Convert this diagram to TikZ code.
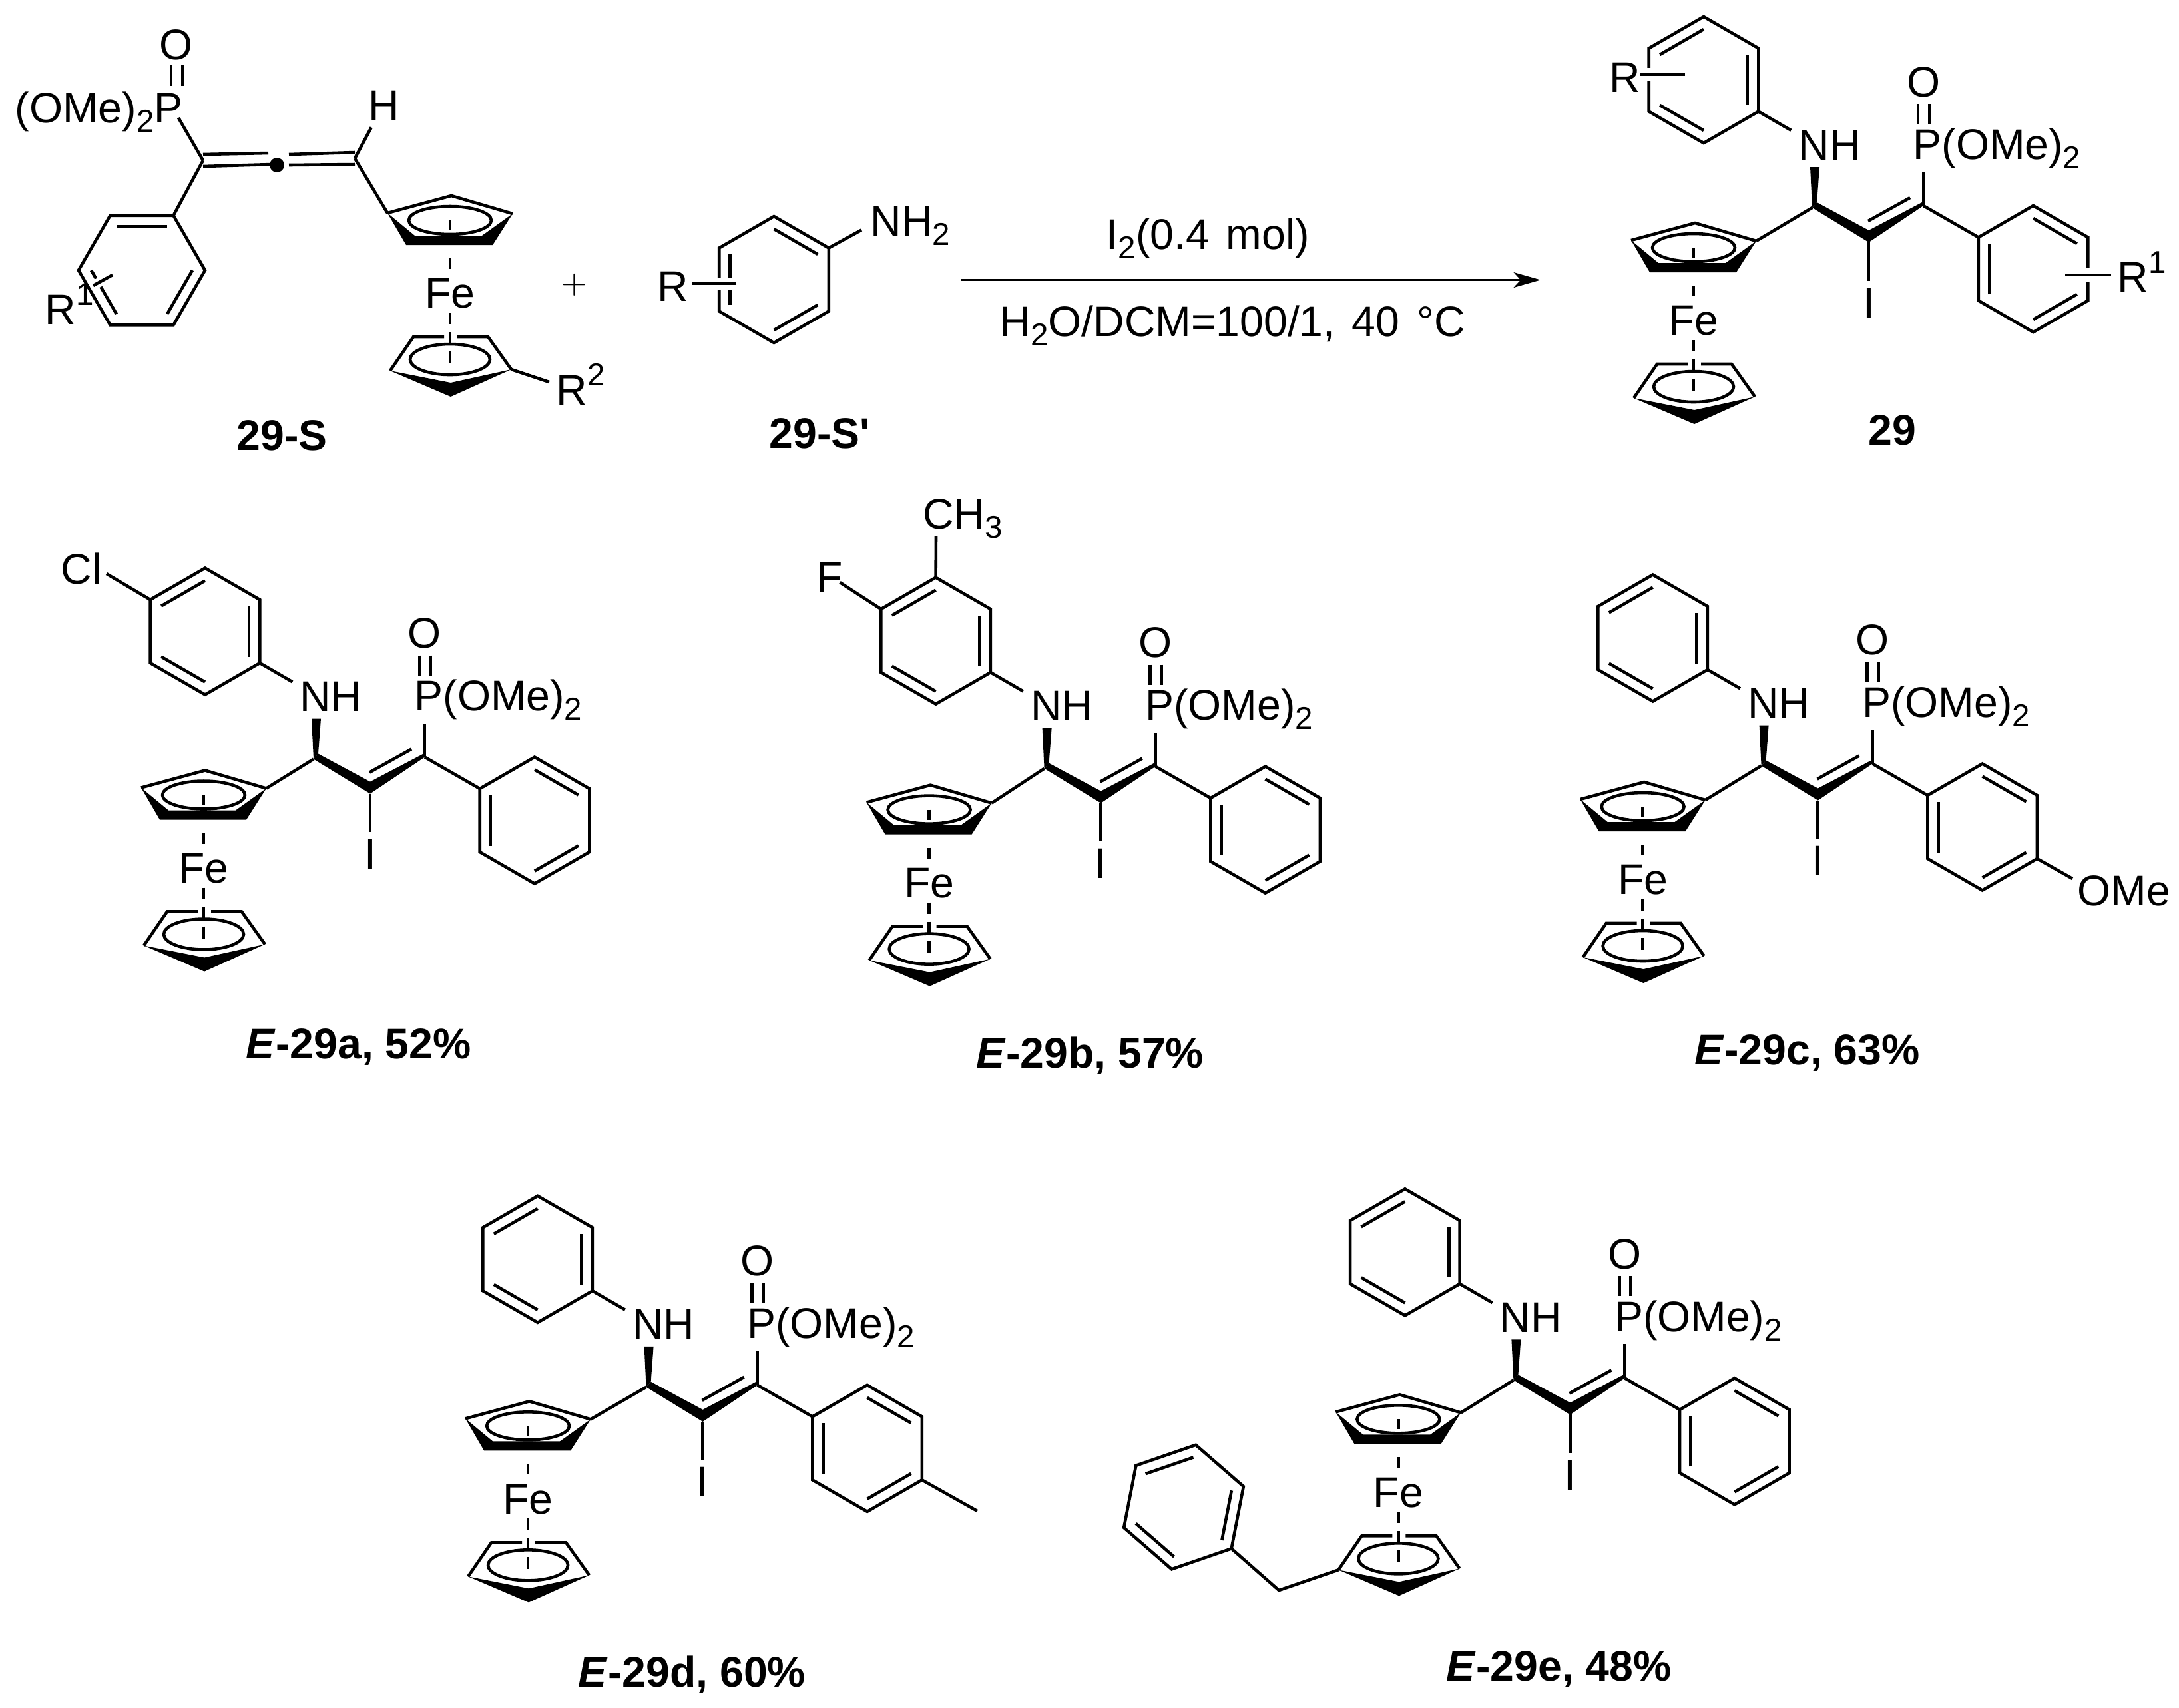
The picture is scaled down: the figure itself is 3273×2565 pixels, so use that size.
\documentclass[tikz,border=0pt]{standalone}
\usepackage{fontspec}
\setmainfont{Liberation Sans}
\usetikzlibrary{arrows.meta}

\newcommand{\atomfont}{\fontsize{18.3}{20}\selectfont}
\newcommand{\lsub}[1]{\raisebox{-4pt}{\fontsize{13.5}{14}\selectfont #1}}
\newcommand{\lsup}[1]{\raisebox{8pt}{\fontsize{13.5}{14}\selectfont #1}}

% six-membered ring round the origin of the scope, #2 = first doubled edge
\newcommand{\benzring}[2]{%
    \foreach \k in {1,...,6} \coordinate (#1\k) at (-150+\k*60:95);
    \draw[bond] (#11)--(#12)--(#13)--(#14)--(#15)--(#16)--cycle;
    \foreach \a in {0,120,240} \draw[bond] (#2+\a:76) -- (#2+\a+60:76);
}

% origin of the scope = right corner of the upper ring
\newcommand{\ferrocene}[1]{%
    \coordinate (#1tr) at (0,0);
    \coordinate (#1tt) at (-92,-27);
    \coordinate (#1tl) at (-188,-1);
    \draw[bond] (#1tl)--(#1tt)--(#1tr);
    \fill (#1tl)--(-160,47)--(-30,47)--(#1tr)--(-46,33)--(-147,33)--cycle;
    \draw[bond] (-94,10) ellipse [x radius=62, y radius=21];
    \node[atom] (#1fe) at (-94,120) {Fe};
    \foreach \ya/\yb in {10/25,67/83,149/166,178/198,207/225}
        \draw[bond] (-94,\ya) -- (-94,\yb);
    % lower ring
    \coordinate (#1al) at (-149,185);
    \coordinate (#1ar) at (-37,185);
    \coordinate (#1bl) at (-184,236);
    \coordinate (#1br) at (-2,234);
    \draw[bond] (-103,185)--(#1al)--(#1bl);
    \draw[bond] (-83,185)--(#1ar)--(#1br);
    \fill (#1bl)--(-93,275)--(#1br)--(-93,254)--cycle;
    \draw[bond] (-94,219) ellipse [x radius=60, y radius=23];
}

% #1 prefix, (#2,#3) chain carbon with NH, (#4,#5) ferrocene seen from there
\newcommand{\product}[5]{%
    \begin{scope}[shift={(#2,#3)}]
        \coordinate (#1c1) at (0,0);
        \coordinate (#1c2) at (85,52);
        \coordinate (#1c3) at (167,-3);
        \coordinate (#1pb) at (167,-54);
        \node[atom] (#1nh) at (26,-94) {NH};
        \node[atomtxt] (#1p) at (151,-73) {P(OMe)\lsub{2}};
        \node[atom] (#1o) at (167,-189) {O};
        \node[atom] (#1i) at (85,143) {I};
        % chain
        \fill (#1c1)--(7,-8)--(85,34)--(165,-8)--(#1c3)--(#1c2)--cycle;
        \fill (#1c1)--(-3,-61)--(11,-61)--(7,-8)--cycle;
        \draw[bond] (84,20)--(147,-15);
        \draw[bond] (#1c2)--(#1i.north);
        \draw[bond] (#1c3)--(#1pb);
        \draw[bond] (159,-156)--(159,-126);
        \draw[bond] (176,-156)--(176,-126);
        % rings
        \begin{scope}[shift={(-163,-192)}]
            \benzring{#1n}{-30}
        \end{scope}
        \begin{scope}[shift={(332,92)}]
            \benzring{#1a}{-90}
        \end{scope}
        \draw[bond] (#1n3)--(#1nh.159);
        \draw[bond] (#1c3)--(#1a6);
        \begin{scope}[shift={(#4,#5)}]
            \ferrocene{#1f}
        \end{scope}
        \draw[bond] (#1c1)--(#1ftr);
    \end{scope}
}

\begin{document}
\begin{tikzpicture}[x=0.01cm, y=-0.01cm]
    % ================= styles =================
    \tikzset{
        bond/.style={line width=1.3pt, black},
        crossbond/.style={bond, preaction={draw=white, line width=#1}},
        atom/.style={font=\atomfont, inner sep=3pt},
        atomtxt/.style={font=\atomfont, anchor=base west, inner sep=0pt},
        cmpd/.style={font=\atomfont\bfseries, anchor=base west, inner sep=0pt}
    }
    \useasboundingbox (0,0) rectangle (3273,2565);

    % ================= allene 29-S =================
    \foreach \n/\x/\y in {spb/268/177, sc1/305/241, sc3/533/238, su1/305/232, su2/403/230,
        sd1/305/250, sd2/408/247, su3/434/232, su4/533/229, sd3/434/248, sd4/533/247}
        \coordinate (\n) at (\x,\y);
    \node[atomtxt] (sp) at (22,184) {(OMe)\lsub{2}P};
    \node[atom] (so) at (265,67) {O};
    \node[atom] (sh) at (577,158) {H};
    \node[circle, fill, inner sep=0pt, minimum size=0.22cm] (sdot) at (416,248) {};
    \draw[bond] (257,97)--(257,129);
    \draw[bond] (274,97)--(274,129);
    \draw[bond] (spb)--(sc1);
    \draw[bond] (su1)--(su2);
    \draw[bond] (sd1)--(sd2);
    \draw[bond] (su3)--(su4);
    \draw[bond] (sd3)--(sd4);
    \draw[bond] (sc3)--(sh.240);
    \begin{scope}[shift={(213,406)}, rotate=30]
        \benzring{sa}{-90}
    \end{scope}
    \draw[bond] (sc1)--(sa2);
    \coordinate (sr1a) at (169,413);
    \coordinate (sr1b) at (140,429);
    \draw[crossbond=4pt] (sr1a)--(sr1b);
    \node[atomtxt] (sr1) at (67,487) {R\lsup{1}};
    \begin{scope}[shift={(770,321)}]
        \ferrocene{sf}
    \end{scope}
    \draw[bond] (sc3)--(sftl);
    \coordinate (sr2b) at (825,574);
    \draw[bond] (sfbr)--(sr2b);
    \node[atomtxt] (sr2) at (835,608) {R\lsup{2}};
    \node[cmpd] (slabel) at (355,676) {29-S};

    \node[font=\fontsize{14.4}{16}\selectfont] (plus) at (863,428) {$+$};

    % ================= aniline 29-S' =================
    \begin{scope}[shift={(1162.5,420)}]
        \benzring{v}{-90}
    \end{scope}
    \coordinate (vnb) at (1294,345.5);
    \draw[bond] (v2)--(vnb);
    \node[atomtxt] (vnh) at (1307,354) {NH\lsub{2}};
    \coordinate (vra) at (1106,426);
    \coordinate (vrb) at (1039,426);
    \draw[crossbond=5pt] (vra)--(vrb);
    \node[atomtxt] (vr) at (987,452) {R};
    \node[cmpd] (vlabel) at (1155,673) {29-S\textquotesingle};

    % ================= arrow =================
    \coordinate (arrowa) at (1444,420.5);
    \coordinate (arrowb) at (2314,420.5);
    \draw[line width=0.9pt, -{Stealth[length=11.5pt, width=6.5pt, inset=3pt]}] (arrowa)--(arrowb);
    \node[atomtxt] (cond1) at (1661,374) {I\lsub{2}(0.4\hspace{2pt} mol)};
    \node[atomtxt] (cond2) at (1501,505) {H\lsub{2}O/DCM=100/1,\hspace{2pt} 40\hspace{2.5pt} °C};

    % ================= product 29 =================
    \product{t}{2722}{312}{-84}{50}
    \coordinate (tra) at (2531,111.6);
    \coordinate (trb) at (2464,111.6);
    \draw[crossbond=5.5pt] (tra)--(trb);
    \node[atomtxt] (tr) at (2417,138) {R};
    \coordinate (tra1) at (3102,413);
    \coordinate (trb1) at (3171,413);
    \draw[crossbond=6pt] (tra1)--(trb1);
    \node[atomtxt] (tr1) at (3180,438.5) {R\lsup{1}};
    \node[cmpd] (tlabel) at (2806,668) {29};

    % ================= E-29a =================
    \product{a}{471}{1140.5}{-71}{44}
    \coordinate (aclb) at (160,862);
    \draw[bond] (an6)--(aclb);
    \node[atomtxt] (acl) at (91,877.5) {Cl};
    \node[cmpd] (alabel) at (369,1590.5) {\textit{E}-29a, 52\%};

    % ================= E-29b =================
    \product{b}{1568.6}{1154.6}{-79}{52}
    \coordinate (bfb) at (1261.5,875);
    \draw[bond] (bn6)--(bfb);
    \node[atomtxt] (bf) at (1226,889) {F};
    \coordinate (bmb) at (1406,805);
    \draw[bond] (bn1)--(bmb);
    \node[atomtxt] (bm) at (1385.5,794.5) {CH\lsub{3}};
    \node[cmpd] (blabel) at (1466,1604) {\textit{E}-29b, 57\%};

    % ================= E-29c =================
    \product{c}{2645.6}{1150.5}{-84}{51.5}
    \coordinate (cob) at (3113,1320);
    \draw[bond] (ca3)--(cob);
    \node[atomtxt] (com) at (3120,1360) {OMe};
    \node[cmpd] (clabel) at (2545,1599) {\textit{E}-29c, 63\%};

    % ================= E-29d =================
    \product{d}{970.6}{2083.8}{-83.5}{48.5}
    \coordinate (dme) at (1468,2270);
    \draw[bond] (da3)--(dme);
    \node[cmpd] (dlabel) at (868,2534) {\textit{E}-29d, 60\%};

    % ================= E-29e =================
    \product{e}{2273.4}{2073.3}{-79}{49}
    \begin{scope}[shift={(1778,2264)}, rotate=-11]
        \benzring{eb}{-30}
    \end{scope}
    \coordinate (ech) at (1921,2389);
    \draw[bond] (eb3)--(ech)--(efbl);
    \node[cmpd] (elabel) at (2172,2525) {\textit{E}-29e, 48\%};
\end{tikzpicture}
\end{document}
